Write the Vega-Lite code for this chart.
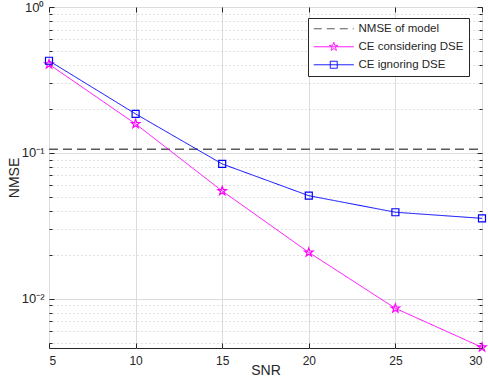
{
  "$schema": "https://vega.github.io/schema/vega-lite/v6.json",
  "autosize": "none",
  "width": 433,
  "height": 341,
  "padding": {"left": 49, "top": 7, "right": 6, "bottom": 40},
  "config": {
    "font": "Liberation Sans",
    "view": {"stroke": "#262626", "strokeWidth": 1},
    "axis": {"domain": false, "labelColor": "#262626", "tickColor": "#262626", "titleColor": "#262626", "labelFontSize": 12, "titleFontSize": 14, "titleFontWeight": "normal"}
  },
  "data": {
    "values": [
      {"series": "NMSE of model", "snr": 5, "nmse": 0.106},
      {"series": "NMSE of model", "snr": 30, "nmse": 0.106},
      {"series": "CE considering DSE", "snr": 5, "nmse": 0.405},
      {"series": "CE considering DSE", "snr": 10, "nmse": 0.158},
      {"series": "CE considering DSE", "snr": 15, "nmse": 0.0548},
      {"series": "CE considering DSE", "snr": 20, "nmse": 0.0208},
      {"series": "CE considering DSE", "snr": 25, "nmse": 0.0086},
      {"series": "CE considering DSE", "snr": 30, "nmse": 0.00465},
      {"series": "CE ignoring DSE", "snr": 5, "nmse": 0.428},
      {"series": "CE ignoring DSE", "snr": 10, "nmse": 0.185},
      {"series": "CE ignoring DSE", "snr": 15, "nmse": 0.084},
      {"series": "CE ignoring DSE", "snr": 20, "nmse": 0.0509},
      {"series": "CE ignoring DSE", "snr": 25, "nmse": 0.0392},
      {"series": "CE ignoring DSE", "snr": 30, "nmse": 0.0356}
    ]
  },
  "resolve": {"axis": {"x": "independent", "y": "independent"}},
  "layer": [
    {
      "mark": {"type": "line", "clip": false},
      "encoding": {
        "x": {"field": "snr", "type": "quantitative", "scale": {"domain": [5, 30], "nice": false, "zero": false},
          "axis": {"orient": "bottom", "values": [5, 10, 15, 20, 25, 30], "grid": true, "gridColor": "#dcdcdc", "tickSize": -5, "labelPadding": 12, "title": "SNR", "titlePadding": -3}},
        "y": {"field": "nmse", "type": "quantitative", "scale": {"type": "log", "domain": [0.0046, 1], "nice": false},
          "axis": {"orient": "left", "values": [0.005, 0.006, 0.007, 0.008, 0.009, 0.01, 0.02, 0.03, 0.04, 0.05, 0.06, 0.07, 0.08, 0.09, 0.1, 0.2, 0.3, 0.4, 0.5, 0.6, 0.7, 0.8, 0.9, 1],
            "labelExpr": "datum.value == 1 ? '10⁰' : datum.value == 0.1 ? '10⁻¹' : datum.value == 0.01 ? '10⁻²' : ''",
            "labelFontSize": 13,
            "grid": true,
            "gridColor": {"condition": {"test": "datum.value == 1 || datum.value == 0.1 || datum.value == 0.01", "value": "#dcdcdc"}, "value": "#c4c4c4"},
            "gridDash": {"condition": {"test": "datum.value == 1 || datum.value == 0.1 || datum.value == 0.01", "value": []}, "value": [1, 3]},
            "tickSize": {"condition": {"test": "datum.value == 1 || datum.value == 0.1 || datum.value == 0.01", "value": -5}, "value": -3},
            "labelPadding": 10, "title": "NMSE", "titlePadding": 0}},
        "color": {"field": "series", "type": "nominal",
          "scale": {"domain": ["NMSE of model", "CE considering DSE", "CE ignoring DSE"], "range": ["#5a5a5a", "#FF00FF", "#0000FF"]},
          "legend": {"title": null, "orient": "none", "legendX": 259, "legendY": 11, "strokeColor": "#262626", "fillColor": "white", "padding": 5, "labelFontSize": 11.5, "labelColor": "#262626", "symbolSize": 100, "symbolOffset": 15, "labelOffset": 19, "rowPadding": 5, "cornerRadius": 0,
            "encode": {"symbols": {"update": {
              "shape": {"signal": "datum.value == 'NMSE of model' ? 'M-4,0H4' : datum.value == 'CE considering DSE' ? 'M-4,0H4M0,-0.9L0.212,-0.291L0.856,-0.278L0.342,0.111L0.529,0.728L0,0.36L-0.529,0.728L-0.342,0.111L-0.856,-0.278L-0.212,-0.291Z' : 'M-4,0H4M-0.7,-0.7H0.7V0.7H-0.7Z'"},
              "strokeDash": {"signal": "datum.value == 'NMSE of model' ? [8, 5] : [1, 0]"},
              "fill": {"value": "transparent"},
              "strokeWidth": {"value": 1}
            }}}}},
        "strokeDash": {"condition": {"test": "datum.series == 'NMSE of model'", "value": [9, 5]}, "value": [1, 0]},
        "strokeWidth": {"condition": {"test": "datum.series == 'NMSE of model'", "value": 1.5}, "value": 1}
      }
    },
    {
      "transform": [{"filter": "datum.series != 'NMSE of model'"}],
      "mark": {"type": "point", "filled": false, "clip": false, "strokeWidth": 1.2, "opacity": 1},
      "encoding": {
        "x": {"field": "snr", "type": "quantitative",
          "axis": {"orient": "top", "values": [5, 10, 15, 20, 25, 30], "grid": false, "labels": false, "tickSize": -5, "title": null}},
        "y": {"field": "nmse", "type": "quantitative",
          "axis": {"orient": "right", "values": [0.005, 0.006, 0.007, 0.008, 0.009, 0.01, 0.02, 0.03, 0.04, 0.05, 0.06, 0.07, 0.08, 0.09, 0.1, 0.2, 0.3, 0.4, 0.5, 0.6, 0.7, 0.8, 0.9, 1],
            "grid": false, "labels": false, "title": null,
            "tickSize": {"condition": {"test": "datum.value == 1 || datum.value == 0.1 || datum.value == 0.01", "value": -5}, "value": -3}}},
        "stroke": {"condition": {"test": "datum.series == 'CE considering DSE'", "value": "#FF00FF"}, "value": "#0000FF"},
        "shape": {"condition": {"test": "datum.series == 'CE considering DSE'", "value": "M0,-1L0.235,-0.324L0.951,-0.309L0.38,0.124L0.588,0.809L0,0.4L-0.588,0.809L-0.38,0.124L-0.951,-0.309L-0.235,-0.324Z"}, "value": "square"},
        "size": {"condition": {"test": "datum.series == 'CE considering DSE'", "value": 81}, "value": 49}
      }
    }
  ]
}
